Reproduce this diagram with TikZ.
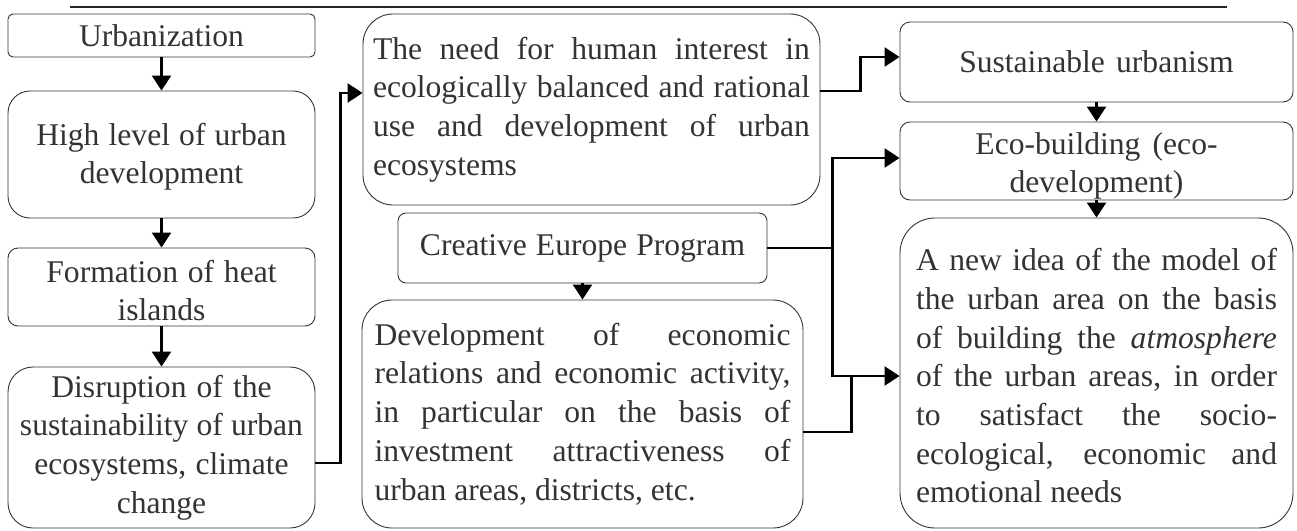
\documentclass[tikz,border=0pt]{standalone}
\usepackage{fontspec}
\setmainfont{Liberation Serif}
\usetikzlibrary{arrows.meta}
\newcommand\jl[2]{{\spaceskip=0pt\xspaceskip=0pt\makebox[#1pt][s]{#2}}}
\begin{document}
\begin{tikzpicture}[x=1pt,y=-1pt,
 box/.style={draw=black!80, line width=0.9pt, text=black!80, inner sep=0pt,
   font=\fontsize{31.6}{38.7}\selectfont, align=center,
   execute at begin node={\spaceskip=0pt\xspaceskip=0pt\relax}},
 conn/.style={line width=2.5pt, -{Triangle[length=15pt,width=19pt]}},
 plain/.style={line width=2.5pt}]
\useasboundingbox (0,0) rectangle (1297,530);
\draw[line width=1.2pt, black!85] (70,7) -- (1227,7);

% left column
\node[box, rounded corners=5pt, minimum width=307pt, minimum height=43pt, text width=300pt]
  (urb) at (161.5,35.5) {Urbanization};
\node[box, rounded corners=22pt, minimum width=307pt, minimum height=127pt, text width=290pt]
  (high) at (161.5,154.5) {\rule{0pt}{27pt}High level of urban\\development};
\node[box, rounded corners=10pt, minimum width=307pt, minimum height=78pt, text width=290pt]
  (form) at (161.5,287) {\rule{0pt}{29pt}Formation of heat\\islands};
\node[box, rounded corners=25pt, minimum width=307pt, minimum height=161pt, text width=290pt]
  (dis) at (161.5,447.5) {Disruption of the\\sustainability of urban\\ecosystems, climate\\change};

% middle column
\node[box, rounded corners=30pt, minimum width=457pt, minimum height=191pt, text width=437pt, align=left]
  (need) at (591.5,109.5) {\jl{437}{The need for human interest in}\\
   \jl{437}{ecologically balanced and rational}\\
   \jl{437}{use and development of urban}\\
   ecosystems};
\node[box, rounded corners=8pt, minimum width=369pt, minimum height=70pt, text width=360pt]
  (cep) at (582.5,248) {Creative Europe Program};
\node[box, rounded corners=30pt, minimum width=441pt, minimum height=228pt, text width=416pt, align=left]
  (dev) at (582.5,414) {\jl{416}{Development of economic}\\
   \jl{416}{relations and economic activity,}\\
   \jl{416}{in particular on the basis of}\\
   \jl{416}{investment attractiveness of}\\
   urban areas, districts, etc.};

% right column
\node[box, rounded corners=10pt, minimum width=393pt, minimum height=80pt, text width=380pt]
  (sust) at (1096.5,62) {Sustainable urbanism};
\node[box, rounded corners=10pt, minimum width=393pt, minimum height=78pt, text width=380pt]
  (eco) at (1096.5,161) {\rule{0pt}{32pt}Eco-building (eco-\\development)};
\node[box, rounded corners=35pt, minimum width=393pt, minimum height=310pt, text width=361pt, align=left]
  (idea) at (1096.5,373) {\rule{0pt}{28pt}\jl{361}{A new idea of the model of}\\
   \jl{361}{the urban area on the basis}\\
   \jl{361}{of building the \textit{atmosphere}}\\
   \jl{361}{of the urban areas, in order}\\
   \jl{361}{to satisfact the socio-}\\
   \jl{361}{ecological, economic and}\\
   emotional needs};

% connectors
\draw[conn] (urb) -- (high);
\draw[conn] (high) -- (form);
\draw[conn] (form) -- (dis);
\draw[conn] ([yshift=-15.5pt]dis.east) -- ++(25,0) |- ([yshift=16.5pt]need.west);
\draw[conn] ([yshift=18.5pt]need.east) -- ++(40,0) |- ([yshift=5pt]sust.west);
\draw[conn] (cep) -- (dev);
\coordinate (j1) at ([xshift=65pt]cep.east);
\draw[conn] (cep.east) -- (j1) |- ([yshift=3pt]eco.west);
\draw[conn] (j1) |- ([yshift=-3pt]idea.west);
\draw[plain] ([yshift=-18pt]dev.east) -| ([xshift=-48pt,yshift=-3pt]idea.west);
\draw[conn] (sust) -- (eco);
\draw[conn] (eco) -- (idea);
\end{tikzpicture}
\end{document}
